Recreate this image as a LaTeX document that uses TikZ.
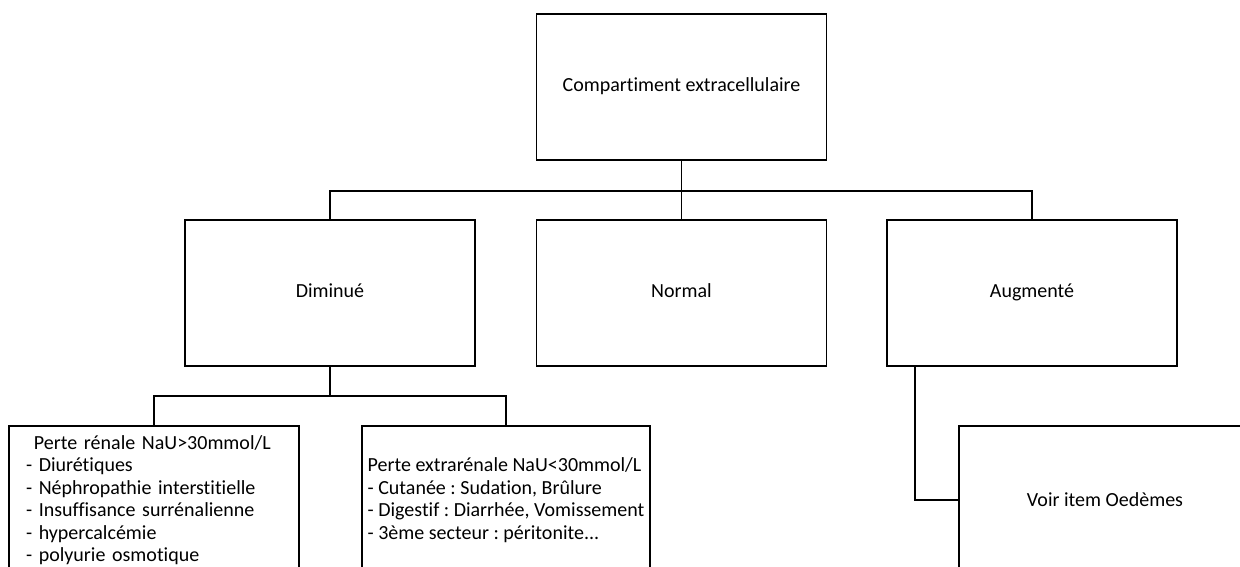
\documentclass[tikz,border=0pt]{standalone}
\usepackage{fontspec}
\setmainfont{Carlito}[Ligatures=NoCommon]
\usepackage{tikz}
\usetikzlibrary{calc,positioning}
\tikzstyle{box}   = [rectangle, draw=black, line width=1.8pt, minimum width=290pt, minimum height=146pt, text centered, text height=2.1ex, text depth=.25ex]
\tikzstyle{list}  = [rectangle, draw=black, line width=1.8pt, minimum height=148pt, align=left]
\tikzstyle{link}  = [line width=1.8pt]

\begin{document}
\frenchspacing
\begin{tikzpicture}[x=1pt, y=-1pt, font=\fontsize{20}{22.5}\selectfont]
	\clip (0,0) rectangle (1240,567);
	\fill[white] (0,0) rectangle (1240,567);

	% niveau 1
	\node[box] (ecomp) at (681.5,87) {Compartiment extracellulaire};

	% niveau 2
	\node[box] (dim)  at (330,293)    {Diminué};
	\node[box] (norm) at (681.5,293)  {Normal};
	\node[box] (aug)  at (1032,293)   {Augmenté};

	% niveau 3
	\node[list, text width=256pt, inner xsep=17pt] (renal) at (154,500) {%
		\hspace*{8pt}Perte rénale NaU>30mmol/L\\
		- Diurétiques\\
		- Néphropathie interstitielle\\
		- Insuffisance surrénalienne\\
		- hypercalcémie\\
		- polyurie osmotique};
	\node[list, minimum width=288pt, inner xsep=1pt] (extra) at (506,500) {%
		Perte extrarénale NaU<30mmol/L\\
		- Cutanée : Sudation, Brûlure\\
		- Digestif : Diarrhée, Vomissement\\
		- 3ème secteur : péritonite...};
	\node[list, minimum width=292pt, align=center] (oed) at (1105,500) {Voir item Oedèmes};

	% liaisons
	\draw[link] (ecomp.south) -- ++(0,30) coordinate (bus1);
	\draw[link] (dim.north) |- (bus1) -| (aug.north);
	\draw[link] (bus1) -- (norm.north);
	\draw[link] (dim.south) -- ++(0,29) coordinate (bus2);
	\draw[link] (renal.north) |- (bus2) -| (extra.north);
	\draw[link] ([xshift=29pt]aug.south west) |- (oed.west);
\end{tikzpicture}
\end{document}
